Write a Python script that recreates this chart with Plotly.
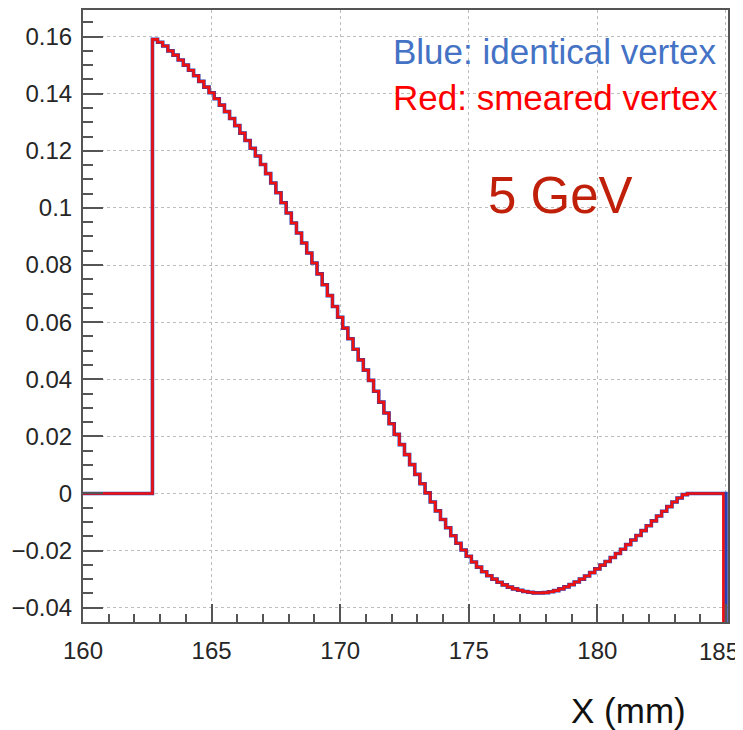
import numpy as np
import plotly.graph_objects as go

# Histogram: first non-empty bin edge, bin width (mm)
first_edge = 162.7
bin_width = 0.2

# Bin contents (bins 162.7-162.9 ... 183.3-183.5)
values = [
    0.1590, 0.1580, 0.1567, 0.1550, 0.1535, 0.1518, 0.1500, 0.1482, 0.1463, 0.1443,
    0.1423, 0.1403, 0.1382, 0.1360, 0.1337, 0.1313, 0.1288, 0.1262, 0.1236, 0.1209,
    0.1182, 0.1152, 0.1120, 0.1087, 0.1053, 0.1018, 0.0982, 0.0947, 0.0912, 0.0877,
    0.0842, 0.0807, 0.0769, 0.0731, 0.0693, 0.0655, 0.0617, 0.0579, 0.0542, 0.0505,
    0.0468, 0.0432, 0.0396, 0.0358, 0.0320, 0.0282, 0.0244, 0.0207, 0.0171, 0.0136,
    0.0101, 0.0067, 0.0034, 0.0002, -0.0030, -0.0061, -0.0091, -0.0120, -0.0148, -0.0174,
    -0.0198, -0.0220, -0.0240, -0.0258, -0.0274, -0.0288, -0.0300, -0.0311, -0.0320, -0.0328,
    -0.0334, -0.0339, -0.0343, -0.0346, -0.0348, -0.0348, -0.0347, -0.0344, -0.0340, -0.0334,
    -0.0327, -0.0319, -0.0310, -0.0300, -0.0289, -0.0277, -0.0264, -0.0251, -0.0238, -0.0224,
    -0.0210, -0.0195, -0.0179, -0.0163, -0.0147, -0.0130, -0.0113, -0.0096, -0.0079, -0.0062,
    -0.0046, -0.0030, -0.0016, -0.0004,
]
# Empty bins after the signal, before the last edge
n_empty_red = 7
n_empty_blue = 7
last_edge_red = 184.9
last_edge_blue = 185.0

x_min, x_max = 160.0, 185.08
y_min, y_max = -0.045, 0.1693

x_tick_vals = [160, 165, 170, 175, 180, 185]
# the last label sits at the page edge; it is drawn as a note so it is not clipped
x_tick_text = ["160", "165", "170", "175", "180", ""]
x_last_label = "185"
y_tick_vals = [-0.04, -0.02, 0, 0.02, 0.04, 0.06, 0.08, 0.1, 0.12, 0.14, 0.16]
y_tick_text = ["\u22120.04", "\u22120.02", "0", "0.02", "0.04", "0.06", "0.08", "0.1", "0.12", "0.14", "0.16"]


def step_points(n_empty, last_edge):
    n = len(values) + n_empty
    edges = first_edge + bin_width * np.arange(n)
    ys = list(values) + [0.0] * n_empty
    xs = [x_min] + list(np.round(edges, 4)) + [last_edge]
    ys = [0.0] + ys + [y_min - 0.02]
    return xs, ys


xb, yb = step_points(n_empty_blue, last_edge_blue)
xr, yr = step_points(n_empty_red, last_edge_red)

fig = go.Figure()
fig.add_trace(go.Scatter(x=xb, y=yb, mode="lines", line=dict(shape="hv", color="#2a3fb0", width=3.6),
                         showlegend=False, hoverinfo="skip"))
fig.add_trace(go.Scatter(x=xr, y=yr, mode="lines", line=dict(shape="hv", color="#ee1111", width=2.6),
                         showlegend=False, hoverinfo="skip"))

font_family = "Liberation Sans, Arial, Helvetica, sans-serif"
tick_font = dict(family=font_family, size=24, color="#262626")
axis_common = dict(
    showline=True, linecolor="#555555", linewidth=2, mirror=True,
    ticks="inside", tickcolor="#555555", tickwidth=1.5,
    showgrid=True, gridcolor="#bdbdbd", griddash="dot", gridwidth=1,
    zeroline=False,
    tickfont=tick_font,
    automargin=False,
)

fig.update_xaxes(
    range=[x_min, x_max], tickvals=x_tick_vals, ticktext=x_tick_text, ticklen=18,
    minor=dict(ticks="inside", ticklen=8, dtick=1, tickcolor="#555555", showgrid=False),
    ticklabelstandoff=6,
    **axis_common,
)
fig.update_yaxes(
    range=[y_min, y_max], tickvals=y_tick_vals, ticktext=y_tick_text, ticklen=20,
    minor=dict(ticks="inside", ticklen=10, dtick=0.005, tick0=0, tickcolor="#555555", showgrid=False),
    ticklabelstandoff=4,
    **axis_common,
)

# The page adds an 8 px body margin, so the figure is 8 px smaller and margins shifted.
fig.update_layout(
    width=735, height=722,
    margin=dict(l=75, r=15, t=2, b=108, autoexpand=False),
    paper_bgcolor="white", plot_bgcolor="white",
    font=dict(family=font_family),
    annotations=[
        dict(text="Blue: identical vertex", xref="paper", yref="paper", x=0.9845, y=0.9314,
             xanchor="right", yanchor="middle", showarrow=False,
             font=dict(family=font_family, size=35, color="#4472c4")),
        dict(text="Red: smeared vertex", xref="paper", yref="paper", x=0.9876, y=0.8578,
             xanchor="right", yanchor="middle", showarrow=False,
             font=dict(family=font_family, size=35, color="#ff0000")),
        dict(text="5 GeV", xref="paper", yref="paper", x=0.741, y=0.6977,
             xanchor="center", yanchor="middle", showarrow=False,
             font=dict(family=font_family, size=51, color="#c0200a")),
        dict(text="X (mm)", xref="paper", yref="paper", x=0.8465, y=-0.1438,
             xanchor="center", yanchor="middle", showarrow=False,
             font=dict(family=font_family, size=35, color="#111111")),
        dict(text=x_last_label, xref="paper", yref="paper", x=1.0195, y=-0.049,
             xanchor="right", yanchor="middle", showarrow=False, font=tick_font),
    ],
)

fig.write_html("out.html")
